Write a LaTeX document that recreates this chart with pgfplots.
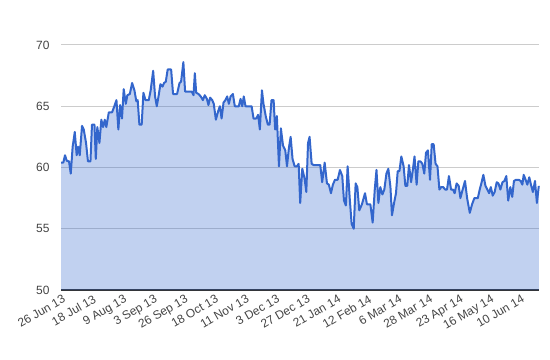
\documentclass[border=0pt]{standalone}
\usepackage{pgfplots}
\pgfplotsset{compat=1.18}
\usepackage{pgfplotstable}
\usepackage{fontspec}
\setmainfont{Liberation Sans}
\definecolor{lineblue}{RGB}{51,102,204}
\definecolor{gridgray}{RGB}{204,204,204}
\definecolor{labelgray}{RGB}{68,68,68}
\definecolor{basegray}{RGB}{51,51,51}
\pgfplotstableread{
x y
0 60.4
1.2 60.4
2.1 61.0
3.0 60.55
4.2 60.5
5.1 59.5
6.1 61.7
7.2 62.9
8.2 61.0
8.9 61.7
9.8 61.0
11.0 63.4
11.9 63.1
13.1 62.0
14.1 60.5
15.4 60.5
16.2 63.5
17.5 63.5
18.2 60.7
19.0 63.3
20.1 62.0
21.1 63.9
22.0 63.3
22.9 63.9
23.7 63.3
25.0 64.5
26.7 64.5
27.9 65.0
29.0 65.5
30.0 63.1
30.9 65.1
31.9 64.0
32.8 66.4
33.9 65.2
34.7 65.9
36.0 66.0
37.2 66.9
38.4 66.3
39.4 65.4
40.1 65.5
41.0 63.5
42.2 63.5
43.1 66.1
44.2 65.5
45.9 65.5
46.9 66.3
48.2 67.9
49.2 65.8
50.1 65.0
51.1 65.9
52.0 66.8
53.1 66.6
53.9 66.9
54.8 67.0
55.8 68.0
57.6 68.0
58.6 66.0
60.7 66.0
62.0 66.9
62.8 67.0
64.0 68.6
64.9 66.2
68.4 66.2
69.3 65.9
70.0 67.7
70.7 66.1
71.9 66.0
73.1 65.8
74.2 65.5
75.2 65.9
76.3 65.6
77.1 65.1
78.0 65.7
79.1 65.5
79.9 65.2
81.0 63.9
82.2 64.6
83.1 65.0
84.0 64.0
85.0 65.3
86.0 65.5
86.9 65.8
87.8 65.2
88.7 65.8
89.9 66.0
90.9 65.0
93.0 65.0
93.9 65.6
94.8 65.0
95.6 65.8
96.5 65.0
99.7 65.0
100.7 64.0
102.1 64.0
103.1 64.3
104.0 63.1
105.1 66.3
105.9 65.2
107.2 64.1
108.2 63.5
109.1 63.5
110.1 65.5
111.2 65.5
112.0 63.1
112.9 64.2
114.0 60.1
115.0 63.2
116.1 61.8
117.3 61.4
118.2 60.1
119.2 61.6
120.1 62.5
121.1 60.7
122.2 60.1
123.4 60.1
124.3 60.3
125.1 57.1
126.2 59.9
127.4 59.1
128.3 58.0
129.2 62.0
130.0 62.5
131.1 60.3
132.1 60.2
135.6 60.2
136.6 58.8
137.9 60.4
139.1 58.7
140.1 58.6
141.2 57.9
142.2 58.6
143.3 59.0
144.7 59.0
145.9 59.8
147.1 59.3
148.0 57.3
149.0 56.9
149.9 60.1
151.0 57.5
152.0 55.4
153.1 55.0
154.1 58.7
155.0 58.4
156.0 56.5
157.4 57.0
159.0 57.9
160.0 57.0
161.8 57.0
163.0 55.5
164.1 58.2
165.0 59.8
166.0 57.1
167.0 58.4
168.1 57.8
169.1 58.2
170.2 59.5
171.2 59.9
172.3 58.4
173.1 56.1
174.2 57.1
175.2 57.9
176.1 59.7
177.0 59.7
178.0 60.9
179.2 60.1
180.1 58.5
181.1 58.5
182.0 60.2
183.1 58.8
184.1 59.9
184.9 60.9
186.0 58.6
186.9 60.5
188.0 60.5
189.0 60.3
190.0 59.5
190.9 61.2
191.9 61.4
193.0 59.0
193.9 61.9
194.9 61.9
195.9 60.3
196.9 60.1
197.9 58.2
198.9 58.4
199.9 58.4
200.9 58.2
201.9 58.2
202.9 59.3
204.0 58.2
205.0 58.2
205.9 57.9
206.9 58.7
208.0 58.5
208.9 57.5
209.9 58.1
211.3 58.9
212.4 57.5
213.8 56.3
215.0 57.0
216.2 57.5
218.0 57.5
219.0 58.2
220.0 58.8
220.9 59.4
222.0 58.5
223.0 58.2
223.9 57.9
224.8 58.4
225.8 57.7
226.8 58.0
227.9 58.8
228.8 58.7
229.8 58.2
230.9 58.8
231.9 58.9
232.9 59.3
233.9 57.3
235.0 58.4
236.0 57.6
236.9 58.9
238.0 59.0
239.4 59.0
240.4 58.9
241.3 58.6
242.0 59.4
243.0 59.0
243.9 58.6
244.9 59.2
245.8 58.6
246.8 58.0
247.9 58.9
248.9 57.1
249.9 58.5
}\pricedata
\begin{document}
\begin{tikzpicture}
\begin{axis}[
  name=ax,
  scale only axis,
  width=478bp, height=245bp,
  xmin=0, xmax=250,
  ymin=50, ymax=70,
  ytick={50,55,60,65,70},
  xtick={0,16,32,48,64,80,96,112,128,144,160,176,192,208,224,240},
  xticklabels={26 Jun 13,18 Jul 13,9 Aug 13,3 Sep 13,26 Sep 13,18 Oct 13,11 Nov 13,3 Dec 13,27 Dec 13,21 Jan 14,12 Feb 14,6 Mar 14,28 Mar 14,23 Apr 14,16 May 14,10 Jun 14},
  ymajorgrids,
  grid style={gridgray, line width=1bp},
  axis lines*=left,
  y axis line style={draw=none},
  x axis line style={basegray, line width=1.3bp, -},
  major tick length=0pt,
  tick label style={font=\fontsize{12}{14}\selectfont, text=labelgray},
  /pgf/number format/assume math mode=true,
  yticklabel style={xshift=-8bp},
  xticklabel style={rotate=30, anchor=north east, inner sep=1bp, yshift=-3bp},
  clip=false,
]
\addplot[draw=none, fill=lineblue, fill opacity=0.3] table {\pricedata} \closedcycle;
\addplot[lineblue, line width=2bp, line join=round, mark=none] table {\pricedata};
\end{axis}
\pgfresetboundingbox
\useasboundingbox ([shift={(-61bp,-70bp)}]ax.south west) rectangle ([shift={(11bp,45bp)}]ax.north east);
\end{tikzpicture}
\end{document}
